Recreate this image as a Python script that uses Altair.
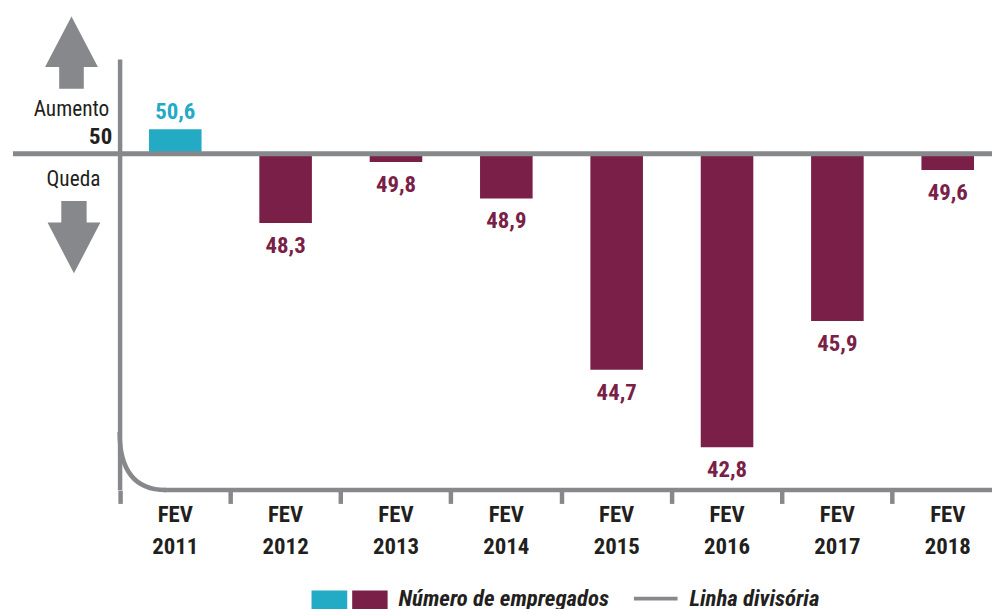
import altair as alt
import pandas as pd

# ---- data ----
years = ["FEV 2011", "FEV 2012", "FEV 2013", "FEV 2014", "FEV 2015", "FEV 2016", "FEV 2017", "FEV 2018"]
values = [50.6, 48.3, 49.8, 48.9, 44.7, 42.8, 45.9, 49.6]
labels = ["50,6", "48,3", "49,8", "48,9", "44,7", "42,8", "45,9", "49,6"]
baseline_value = 50
legend_labels = ["Número de empregados", "Linha divisória"]

CYAN = "#23aac5"
MAROON = "#7a1f47"
GRAY = "#87888b"
DARK = "#231f20"
FONT = "Roboto Condensed, Roboto, sans-serif"

df = pd.DataFrame({"year": years, "value": values, "label": labels})
one = pd.DataFrame({"a": [0]})

W, H = 879, 484
yscale = alt.Scale(domain=[41.74, 53.516], nice=False, zero=False)
xscale = alt.Scale(range=[0, 890], paddingInner=0, paddingOuter=0)

base = alt.Chart(df).transform_calculate(
    dir="datum.value >= 50 ? 'up' : 'down'"
)

xenc = alt.X(
    "year:N", sort=None, scale=xscale,
    axis=alt.Axis(
        title=None, domain=False, grid=False, bandPosition=0,
        tickSize=13, tickWidth=4.5, tickColor=GRAY,
        labelExpr="split(datum.label, ' ')", labelAngle=0,
        labelFont=FONT, labelFontSize=23, labelFontWeight="bold",
        labelColor=DARK, labelLineHeight=32, labelPadding=0,
    ),
)

bars = base.mark_bar(width=53).encode(
    x=xenc,
    y=alt.Y("value:Q", scale=yscale, axis=None),
    y2=alt.datum(baseline_value),
    color=alt.Color("dir:N", scale=alt.Scale(domain=["up", "down"], range=[CYAN, MAROON]), legend=None),
)

lab_up = base.transform_filter("datum.value >= 50").mark_text(
    font=FONT, fontSize=23, fontWeight="bold", baseline="alphabetic", dy=-10
).encode(
    x=alt.X("year:N", sort=None, scale=xscale),
    y=alt.Y("value:Q", scale=yscale),
    text="label:N",
    color=alt.value(CYAN),
)
lab_down = base.transform_filter("datum.value < 50").mark_text(
    font=FONT, fontSize=23, fontWeight="bold", baseline="alphabetic", dy=30
).encode(
    x=alt.X("year:N", sort=None, scale=xscale),
    y=alt.Y("value:Q", scale=yscale),
    text="label:N",
    color=alt.value(MAROON),
)

c1 = alt.Chart(one)

zero_line = c1.mark_rule(color=GRAY, strokeWidth=5).encode(
    y=alt.datum(baseline_value), x=alt.value(-108), x2=alt.value(W)
)
vert_line = c1.mark_rule(color=GRAY, strokeWidth=4.5).encode(
    x=alt.value(0), y=alt.value(49.5), y2=alt.value(H)
)
bottom_line = c1.mark_rule(color=GRAY, strokeWidth=4.5).encode(
    x=alt.value(44), x2=alt.value(W), y=alt.value(H - 0.5)
)
curve = c1.mark_point(
    shape="M-0.795,-1 Q-0.795,1 0.795,1", filled=False, opacity=1,
    strokeWidth=4.5, color=GRAY, size=3422,
).encode(x=alt.value(22.75), y=alt.value(454.25))

up_arrow = c1.mark_point(
    shape="M0,-1 L0.73,0.4 L0.34,0.4 L0.34,1 L-0.34,1 L-0.34,0.4 L-0.73,0.4 Z",
    filled=True, opacity=1, color=GRAY, size=5329, strokeWidth=0,
).encode(x=alt.value(-49), y=alt.value(42.5))
down_arrow = c1.mark_point(
    shape="M0,1 L0.73,-0.4 L0.35,-0.4 L0.35,-1 L-0.35,-1 L-0.35,-0.4 L-0.73,-0.4 Z",
    filled=True, opacity=1, color=GRAY, size=5329, strokeWidth=0,
).encode(x=alt.value(-46.5), y=alt.value(228.5))

t_aum = c1.mark_text(text="Aumento", font=FONT, fontSize=21.5, color=DARK,
                     align="center", baseline="alphabetic").encode(
    x=alt.value(-49), y=alt.value(106))
t_50 = c1.mark_text(text="50", font=FONT, fontSize=23, fontWeight="bold", color=DARK,
                    align="right", baseline="alphabetic").encode(
    x=alt.value(-8), y=alt.value(135))
t_queda = c1.mark_text(text="Queda", font=FONT, fontSize=21.5, color=DARK,
                       align="center", baseline="alphabetic").encode(
    x=alt.value(-47), y=alt.value(177))

leg_c = c1.mark_rect(color=CYAN).encode(
    x=alt.value(193), x2=alt.value(229), y=alt.value(584.7), y2=alt.value(610))
leg_m = c1.mark_rect(color=MAROON).encode(
    x=alt.value(234), x2=alt.value(269.7), y=alt.value(584.7), y2=alt.value(610))
leg_t1 = c1.mark_text(text=legend_labels[0], font=FONT, fontSize=23, fontWeight="bold",
                      fontStyle="italic", color=DARK, align="left", baseline="alphabetic").encode(
    x=alt.value(280.7), y=alt.value(600))
leg_line = c1.mark_rule(color=GRAY, strokeWidth=4).encode(
    x=alt.value(518), x2=alt.value(562), y=alt.value(593))
leg_t2 = c1.mark_text(text=legend_labels[1], font=FONT, fontSize=23, fontWeight="bold",
                      fontStyle="italic", color=DARK, align="left", baseline="alphabetic").encode(
    x=alt.value(574), y=alt.value(600))

chart = alt.layer(
    bars, zero_line, vert_line, bottom_line, curve, lab_up, lab_down,
    up_arrow, down_arrow, t_aum, t_50, t_queda,
    leg_c, leg_m, leg_t1, leg_line, leg_t2,
).properties(
    width=W, height=H,
    autosize=alt.AutoSizeParams(type="none"),
    padding={"left": 113, "top": 0, "right": 0, "bottom": 117},
    background="white",
).configure_view(stroke=None)

chart.save("out.html", embed_options={"renderer": "svg", "actions": False})
